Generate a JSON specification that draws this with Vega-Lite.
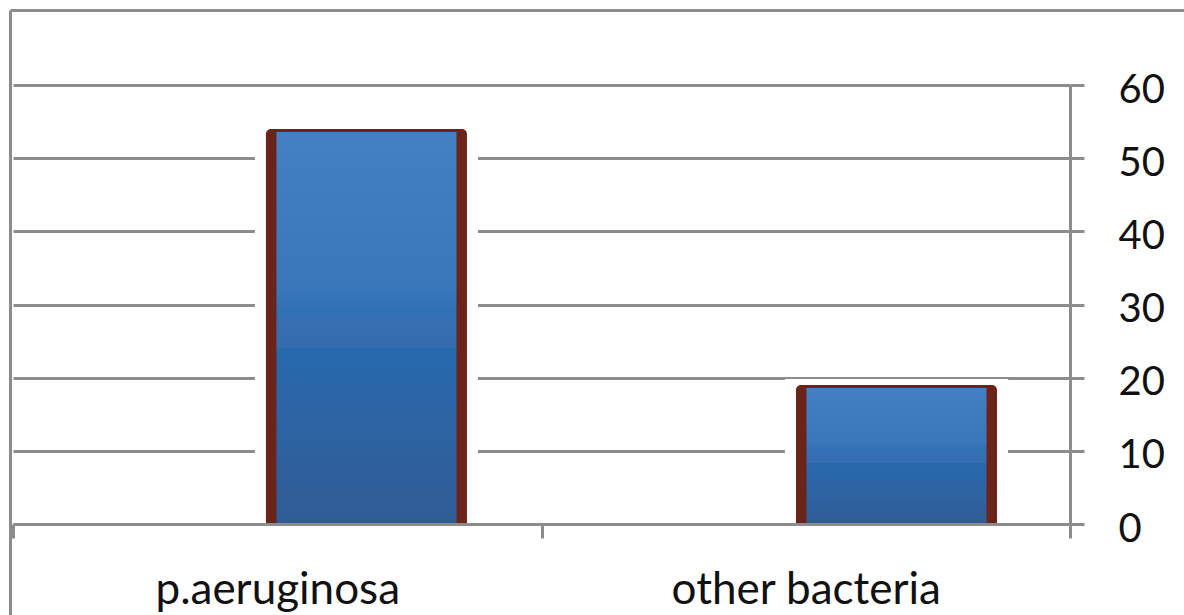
{
  "$schema": "https://vega.github.io/schema/vega-lite/v6.json",
  "autosize": {"type": "none"},
  "padding": {"left": 13, "top": 85, "right": 114, "bottom": 91},
  "width": 1057,
  "height": 439,
  "background": "white",
  "config": {"view": {"stroke": null}, "font": "Lato"},
  "data": {
    "values": [
      {"organism": "p.aeruginosa", "count": 54},
      {"organism": "other bacteria", "count": 19}
    ]
  },
  "layer": [
    {
      "mark": {"type": "bar", "opacity": 0},
      "encoding": {
        "x": {
          "field": "organism",
          "type": "nominal",
          "sort": null,
          "scale": {"paddingInner": 0, "paddingOuter": 0, "round": false},
          "axis": {
            "title": null,
            "zindex": 1,
            "tickBand": "extent",
            "domainColor": "#8c8c8c",
            "domainWidth": 3,
            "tickColor": "#8c8c8c",
            "tickWidth": 3,
            "tickSize": 14,
            "labelFont": "Lato",
            "labelFontSize": 44,
            "labelColor": "#111111",
            "labelAngle": 0,
            "labelLimit": 0,
            "labelBaseline": "alphabetic",
            "labelPadding": 65
          }
        },
        "y": {
          "field": "count",
          "type": "quantitative",
          "scale": {"domain": [0, 60], "nice": false},
          "axis": {
            "orient": "right",
            "title": null,
            "values": [0, 10, 20, 30, 40, 50, 60],
            "grid": true,
            "gridColor": "#8c8c8c",
            "gridWidth": 3,
            "domainColor": "#8c8c8c",
            "domainWidth": 3,
            "tickColor": "#8c8c8c",
            "tickWidth": 3,
            "tickSize": 14,
            "labelFont": "Lato",
            "labelFontSize": 40,
            "labelColor": "#111111",
            "labelPadding": 34,
            "labelBaseline": "alphabetic",
            "labelOffset": 17,
            "labelAlign": "left"
          }
        }
      }
    },
    {
      "encoding": {
        "x": {
          "field": "organism",
          "type": "nominal",
          "sort": null,
          "scale": {"paddingInner": 0.6208, "paddingOuter": 0.3075, "align": 0.776, "round": false},
          "axis": null
        },
        "y": {
          "field": "count",
          "type": "quantitative",
          "scale": {"domain": [0, 60], "nice": false},
          "axis": null
        },
        "y2": {"datum": 0}
      },
      "layer": [
        {
          "mark": {"type": "bar", "color": "white", "width": {"band": 1.11}, "yOffset": -6}
        },
        {
          "mark": {"type": "bar", "color": "#6b2419", "cornerRadiusTopLeft": 5, "cornerRadiusTopRight": 5}
        },
        {
          "mark": {
            "type": "bar",
            "width": {"band": 0.8955},
            "yOffset": 3,
            "color": {
              "gradient": "linear",
              "x1": 0, "y1": 0, "x2": 0, "y2": 1,
              "stops": [
                {"offset": 0, "color": "#4280c3"},
                {"offset": 0.4, "color": "#3a76ba"},
                {"offset": 0.47, "color": "#2f6fb5"},
                {"offset": 0.471, "color": "#386fb2"},
                {"offset": 0.55, "color": "#356cb0"},
                {"offset": 0.551, "color": "#2769ae"},
                {"offset": 0.75, "color": "#2e63a3"},
                {"offset": 1, "color": "#305c95"}
              ]
            }
          }
        }
      ]
    },
    {
      "description": "Chart-area frame: top and left border lines drawn as axis domains",
      "mark": {"type": "point", "opacity": 0},
      "encoding": {
        "x": {
          "datum": 0,
          "type": "quantitative",
          "scale": {"domain": [0, 1], "range": [-3, 1171]},
          "axis": {
            "orient": "top",
            "offset": 75,
            "title": null,
            "ticks": false,
            "labels": false,
            "grid": false,
            "domainColor": "#8c8c8c",
            "domainWidth": 3
          }
        },
        "y": {
          "datum": 0,
          "type": "quantitative",
          "scale": {"domain": [0, 1], "range": [530, -75]},
          "axis": {
            "orient": "left",
            "offset": 3,
            "title": null,
            "ticks": false,
            "labels": false,
            "grid": false,
            "domainColor": "#8c8c8c",
            "domainWidth": 3
          }
        }
      }
    }
  ],
  "resolve": {"scale": {"x": "independent", "y": "independent"}}
}
